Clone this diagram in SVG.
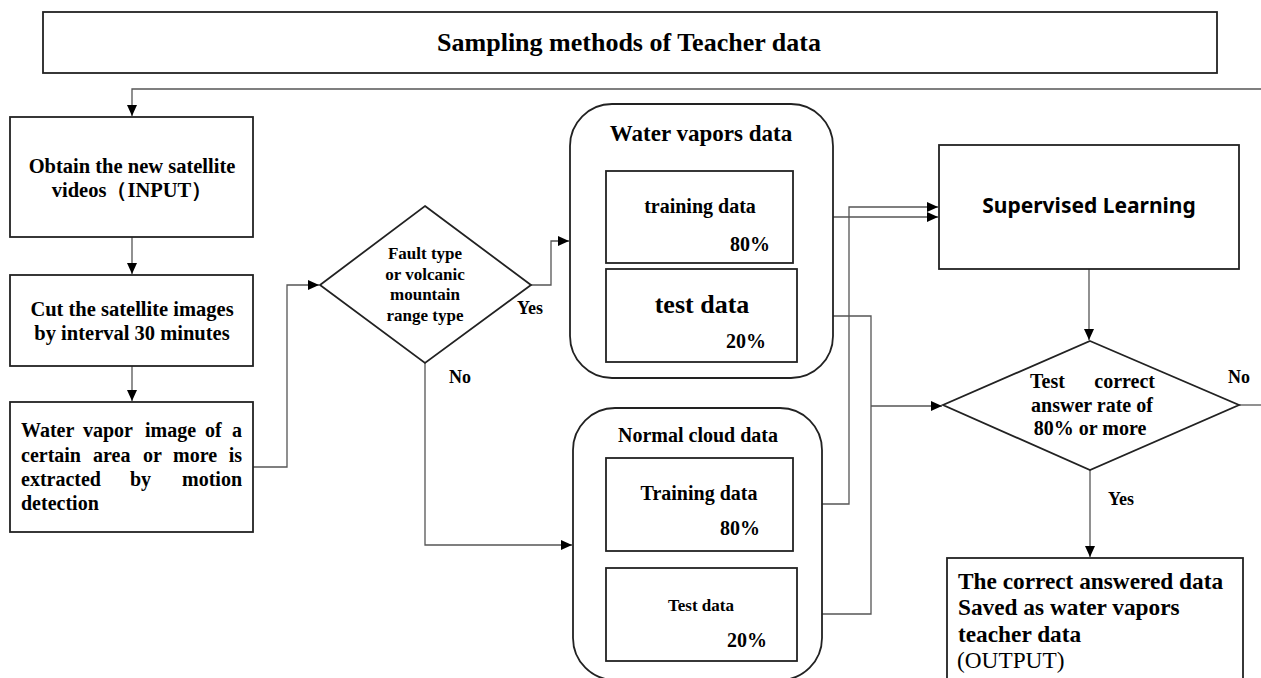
<svg xmlns="http://www.w3.org/2000/svg" width="1261" height="678" viewBox="0 0 1261 678">
<style>
.box{fill:#fff;stroke:#222;stroke-width:1.8}
.con{fill:none;stroke:#555;stroke-width:1.3}
.t{font-family:"Liberation Serif","Times New Roman",serif;font-weight:bold;fill:#000}
.m{text-anchor:middle}
.e{text-anchor:end}
.s{font-family:"Noto Sans","Open Sans","Liberation Sans",sans-serif;font-weight:bold;fill:#000}
</style>
<defs>
<marker id="ah" markerUnits="userSpaceOnUse" markerWidth="12" markerHeight="10" refX="11" refY="5" orient="auto">
<path d="M0,0 L11,5 L0,10 Z" fill="#000"/>
</marker>
</defs>

<g id="title">
<rect class="box" x="43" y="12" width="1174" height="61"/>
<text class="t m" x="629" y="51" font-size="26">Sampling methods of Teacher data</text>
</g>

<g id="connectors">
<path class="con" d="M1261,89 H132 V116" marker-end="url(#ah)"/>
<path class="con" d="M132,237 V274" marker-end="url(#ah)"/>
<path class="con" d="M132,366 V401" marker-end="url(#ah)"/>
<path class="con" d="M253,467 H287 V285 H319" marker-end="url(#ah)"/>
<path class="con" d="M531,285 H551 V241 H569" marker-end="url(#ah)"/>
<path class="con" d="M425,363 V545 H572" marker-end="url(#ah)"/>
<path class="con" d="M793,217 H938" marker-end="url(#ah)"/>
<path class="con" d="M793,504 H849 V207 H938" marker-end="url(#ah)"/>
<path class="con" d="M797,316 H871 V614 H797"/>
<path class="con" d="M871,406 H942" marker-end="url(#ah)"/>
<path class="con" d="M1089,269 V340" marker-end="url(#ah)"/>
<path class="con" d="M1239,405 H1261"/>
<path class="con" d="M1090,470 V557" marker-end="url(#ah)"/>
</g>

<g id="obtain">
<rect class="box" x="10" y="117" width="243" height="120"/>
<text class="t m" font-size="20.5" x="132" y="173">Obtain the new satellite</text>
<text class="t m" font-size="20.5" x="132" y="197" font-family="'Liberation Serif','Noto Sans CJK SC',serif">videos（INPUT）</text>
</g>

<g id="cut">
<rect class="box" x="10" y="275" width="243" height="91"/>
<text class="t m" font-size="20.5" x="132" y="316">Cut the satellite images</text>
<text class="t m" font-size="20.5" x="132" y="340">by interval 30 minutes</text>
</g>

<g id="extract">
<rect class="box" x="10" y="402" width="243" height="130"/>
<g class="t" font-size="20">
<text x="21" y="437">Water</text><text x="83" y="437">vapor</text><text x="145" y="437">image</text><text x="205" y="437">of</text><text class="e" x="242" y="437">a</text>
<text x="21" y="462">certain</text><text x="93" y="462">area</text><text x="143" y="462">or</text><text x="173" y="462">more</text><text class="e" x="242" y="462">is</text>
<text x="21" y="486">extracted</text><text x="130" y="486">by</text><text class="e" x="242" y="486">motion</text>
<text x="21" y="510">detection</text>
</g>
</g>

<g id="fault">
<polygon class="box" points="425,206 531,285 425,363 320,285"/>
<text class="t m" font-size="17" x="425" y="259">Fault type</text>
<text class="t m" font-size="17" x="425" y="280">or volcanic</text>
<text class="t m" font-size="17" x="425" y="300">mountain</text>
<text class="t m" font-size="17" x="425" y="321">range type</text>
<text class="t" font-size="18" x="517" y="314">Yes</text>
<text class="t" font-size="18" x="449" y="383">No</text>
</g>

<g id="water-vapors">
<rect class="box" x="570" y="104" width="263" height="274" rx="42"/>
<text class="t m" font-size="23" x="701" y="141">Water vapors data</text>
</g>
<g id="wv-training">
<rect class="box" x="606" y="171" width="187" height="92"/>
<text class="t m" font-size="20" x="700" y="213">training data</text>
<text class="t e" font-size="20" x="770" y="251">80%</text>
</g>
<g id="wv-test">
<rect class="box" x="606" y="269" width="191" height="93"/>
<text class="t m" font-size="26" x="702" y="313">test data</text>
<text class="t e" font-size="20" x="766" y="348">20%</text>
</g>

<g id="normal-cloud">
<rect class="box" x="573" y="408" width="249" height="272" rx="42"/>
<text class="t m" font-size="20" x="698" y="442">Normal cloud data</text>
</g>
<g id="nc-training">
<rect class="box" x="606" y="458" width="187" height="93"/>
<text class="t m" font-size="20" x="699" y="500">Training data</text>
<text class="t e" font-size="20" x="760" y="535">80%</text>
</g>
<g id="nc-test">
<rect class="box" x="606" y="568" width="191" height="93"/>
<text class="t m" font-size="17" x="701" y="611">Test data</text>
<text class="t e" font-size="20" x="767" y="647">20%</text>
</g>

<g id="supervised">
<rect class="box" x="939" y="145" width="300" height="124"/>
<text class="s m" font-size="21" x="1089" y="213">Supervised Learning</text>
</g>

<g id="test-rate">
<polygon class="box" points="1090,341 1239,405 1090,470 943,405"/>
<text class="t" font-size="20" x="1030" y="388">Test</text>
<text class="t e" font-size="20" x="1155" y="388">correct</text>
<text class="t m" font-size="20" x="1092" y="412">answer rate of</text>
<text class="t m" font-size="20" x="1090" y="435">80% or more</text>
<text class="t" font-size="18" x="1228" y="383">No</text>
<text class="t" font-size="18" x="1108" y="505">Yes</text>
</g>

<g id="output">
<rect class="box" x="947" y="558" width="296" height="140"/>
<text class="t" font-size="23.3" x="958" y="589">The correct answered data</text>
<text class="t" font-size="23.3" x="958" y="615">Saved as water vapors</text>
<text class="t" font-size="23.3" x="958" y="642">teacher data</text>
<text font-family="'Liberation Serif','Times New Roman',serif" font-size="23.3" x="957" y="668">(OUTPUT)</text>
</g>
</svg>
